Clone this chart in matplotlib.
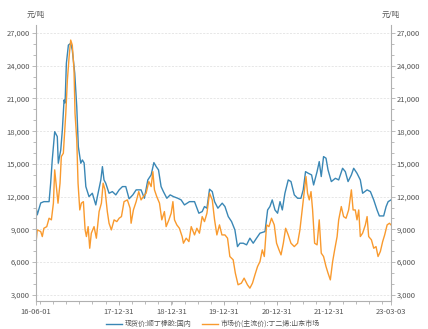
import numpy as np
import pandas as pd
import matplotlib
matplotlib.use("Agg")
from matplotlib import pyplot as plt
from matplotlib import ticker

plt.rcParams["font.family"] = ["Noto Sans CJK SC", "DejaVu Sans"]

# 现货价:顺丁橡胶:国内
br_dates = [
    "2016-06-01", "2016-06-13", "2016-07-07", "2016-07-29", "2016-09-03", "2016-09-14",
    "2016-09-25", "2016-10-12", "2016-10-30", "2016-11-06", "2016-11-23", "2016-12-04",
    "2016-12-16", "2016-12-23", "2017-01-01", "2017-01-15", "2017-01-31", "2017-02-11",
    "2017-02-28", "2017-03-14", "2017-03-25", "2017-04-11", "2017-04-22", "2017-05-04",
    "2017-05-16", "2017-06-07", "2017-06-30", "2017-07-24", "2017-08-04", "2017-08-28",
    "2017-09-08", "2017-09-19", "2017-10-01", "2017-10-24", "2017-11-16", "2017-12-10",
    "2018-01-02", "2018-01-25", "2018-02-17", "2018-03-12", "2018-04-07", "2018-04-30",
    "2018-06-03", "2018-06-26", "2018-07-20", "2018-08-12", "2018-08-31", "2018-09-16",
    "2018-10-02", "2018-10-20", "2018-11-05", "2018-11-29", "2018-12-22", "2019-01-14",
    "2019-02-13", "2019-03-08", "2019-03-31", "2019-05-05", "2019-06-09", "2019-07-09",
    "2019-08-01", "2019-08-17", "2019-09-03", "2019-09-21", "2019-10-10", "2019-10-26",
    "2019-11-18", "2019-12-18", "2020-01-06", "2020-01-29", "2020-02-21", "2020-03-15",
    "2020-04-02", "2020-04-19", "2020-05-12", "2020-06-04", "2020-06-27", "2020-07-20",
    "2020-08-12", "2020-09-05", "2020-10-10", "2020-10-28", "2020-11-13", "2020-11-29",
    "2020-12-18", "2021-01-05", "2021-01-22", "2021-02-07", "2021-02-25", "2021-03-20",
    "2021-04-08", "2021-05-01", "2021-05-24", "2021-06-16", "2021-07-02", "2021-07-18",
    "2021-08-06", "2021-08-29", "2021-09-12", "2021-10-06", "2021-10-21", "2021-11-04",
    "2021-11-20", "2021-12-07", "2021-12-21", "2022-01-13", "2022-02-10", "2022-03-05",
    "2022-04-01", "2022-04-20", "2022-05-09", "2022-06-01", "2022-06-17", "2022-07-10",
    "2022-08-02", "2022-08-18", "2022-09-18", "2022-10-11", "2022-11-03", "2022-11-26",
    "2022-12-12", "2023-01-11", "2023-01-28", "2023-02-11", "2023-03-03",
]
br_values = [
    11400, 10330, 11420, 11540, 11540, 13230,
    15360, 17950, 17500, 15060, 16280, 18100,
    20860, 20580, 24220, 25890, 26050, 25440,
    23310, 20240, 16580, 15060, 15360, 15090,
    12920, 12000, 12310, 11240, 12000, 13530,
    14750, 13530, 13230, 12310, 12460, 12160,
    12620, 12920, 12920, 11800, 12160, 12620,
    12620, 11850, 13530, 13990, 15120, 14750,
    14450, 12920, 12460, 11850, 12160, 12000,
    11850, 11700, 11240, 11540, 11540, 10480,
    10630, 11090, 10940, 12680, 12460, 11540,
    10940, 11400, 11090, 10170, 9710, 8950,
    7420, 7730, 7730, 7580, 8190, 7730,
    8190, 8650, 8800, 10780, 11090, 11700,
    10780, 10480, 11540, 10780, 12310, 13530,
    13380, 12160, 11850, 11850, 12620, 14290,
    14140, 13990, 13070, 14290, 15210, 13840,
    15670, 15520, 14450, 13380, 13680, 13530,
    14600, 14290, 13380, 13990, 14600, 14140,
    13530, 12310, 12620, 12460, 11700, 10780,
    10230, 10230, 11090, 11540, 11700,
]

# 市场价(主流价):丁二烯:山东市场
bd_dates = [
    "2016-06-01", "2016-06-13", "2016-07-07", "2016-07-18", "2016-07-29", "2016-08-18",
    "2016-09-03", "2016-09-19", "2016-10-03", "2016-10-12", "2016-10-26", "2016-11-04",
    "2016-11-18", "2016-11-27", "2016-12-11", "2016-12-28", "2017-01-08", "2017-01-20",
    "2017-01-31", "2017-02-11", "2017-02-23", "2017-03-02", "2017-03-14", "2017-03-23",
    "2017-04-04", "2017-04-15", "2017-04-29", "2017-05-11", "2017-05-20", "2017-06-01",
    "2017-06-12", "2017-06-23", "2017-07-12", "2017-07-28", "2017-08-16", "2017-09-01",
    "2017-09-13", "2017-09-26", "2017-10-12", "2017-10-24", "2017-11-09", "2017-11-28",
    "2017-12-17", "2018-01-02", "2018-01-18", "2018-02-05", "2018-02-28", "2018-03-19",
    "2018-03-26", "2018-04-11", "2018-04-30", "2018-05-18", "2018-06-03", "2018-06-19",
    "2018-07-08", "2018-07-27", "2018-08-12", "2018-08-24", "2018-09-04", "2018-09-20",
    "2018-10-09", "2018-10-25", "2018-11-12", "2018-11-24", "2018-12-13", "2018-12-29",
    "2019-01-10", "2019-01-21", "2019-02-06", "2019-02-24", "2019-03-15", "2019-03-24",
    "2019-04-12", "2019-05-01", "2019-05-17", "2019-06-09", "2019-06-25", "2019-07-13",
    "2019-08-01", "2019-08-17", "2019-09-03", "2019-09-21", "2019-10-10", "2019-10-26",
    "2019-11-11", "2019-11-29", "2019-12-16", "2020-01-06", "2020-01-24", "2020-02-09",
    "2020-03-03", "2020-03-18", "2020-04-06", "2020-04-29", "2020-05-18", "2020-06-10",
    "2020-06-27", "2020-07-15", "2020-08-01", "2020-08-19", "2020-09-05", "2020-09-21",
    "2020-10-05", "2020-10-21", "2020-11-06", "2020-11-24", "2020-12-13", "2020-12-29",
    "2021-01-15", "2021-01-29", "2021-02-14", "2021-03-02", "2021-03-20", "2021-04-08",
    "2021-05-01", "2021-05-24", "2021-06-09", "2021-06-25", "2021-07-09", "2021-07-21",
    "2021-08-01", "2021-08-13", "2021-08-25", "2021-09-05", "2021-09-19", "2021-10-06",
    "2021-10-21", "2021-11-04", "2021-11-20", "2021-12-07", "2021-12-21", "2022-01-06",
    "2022-01-22", "2022-02-05", "2022-02-22", "2022-03-05", "2022-03-23", "2022-04-08",
    "2022-04-25", "2022-05-13", "2022-06-01", "2022-06-13", "2022-06-28", "2022-07-10",
    "2022-07-22", "2022-08-02", "2022-08-18", "2022-09-06", "2022-09-18", "2022-09-29",
    "2022-10-18", "2022-11-03", "2022-11-19", "2022-12-03", "2022-12-19", "2023-01-04",
    "2023-01-18", "2023-02-04", "2023-02-20", "2023-03-03",
]
bd_values = [
    7300, 8950, 8800, 8340, 9100, 9250,
    10020, 9870, 11400, 14450, 12620, 11400,
    13230, 15670, 15980, 19640, 22690, 24820,
    26350, 25890, 23600, 19640, 17200, 13230,
    10780, 11400, 11540, 8950, 8340, 9250,
    7270, 8650, 9250, 8190, 10630, 11400,
    13230, 12620, 10630, 9560, 8950, 9870,
    9710, 10020, 10170, 11540, 11700, 10940,
    9560, 10780, 11540, 12460, 11700, 12000,
    12310, 13380, 12920, 14290, 12620, 12000,
    11400, 9870, 10630, 9250, 9870, 10480,
    11540, 9870, 9410, 9100, 8340, 7730,
    8190, 7880, 9250, 8490, 9100, 8650,
    10170, 9710, 10480, 12310, 11700, 9870,
    8490, 9410, 8490, 8490, 8190, 6510,
    6210, 4990, 3920, 4070, 4530, 3920,
    3610, 4070, 4830, 5590, 6050, 7120,
    6510, 9410, 9250, 10020, 9410, 7730,
    7120, 6660, 7730, 9100, 8490, 7730,
    7420, 7730, 8950, 10780, 12460, 13840,
    12310, 11700, 12460, 10780, 7730, 7580,
    9870, 6820, 6510, 5590, 4990, 4370,
    6050, 7120, 8340, 9870, 11090, 10170,
    10020, 10780, 12620, 10780, 10780, 9870,
    10780, 8340, 8650, 9410, 10170, 8340,
    8040, 7270, 7420, 6510, 6970, 7880,
    8490, 9410, 9560, 9410,
]

x_major = ["2016-06-01", "2017-12-31", "2018-12-31", "2019-12-31",
           "2020-12-31", "2021-12-31", "2023-03-03"]

BLUE = "#3a87b5"
ORANGE = "#f99a2e"
AXIS_GRAY = "#b0b0b0"
TEXT_GRAY = "#555555"

fig = plt.figure(figsize=(4.28, 3.29), dpi=100)
ax = fig.add_axes([0.083, 0.084, 0.8306, 0.839])

ax.plot(pd.to_datetime(br_dates), br_values, color=BLUE, lw=1.0,
        label="现货价:顺丁橡胶:国内")
ax.plot(pd.to_datetime(bd_dates), bd_values, color=ORANGE, lw=1.0,
        label="市场价(主流价):丁二烯:山东市场")

# 坐标轴范围
ax.set_xlim(pd.Timestamp("2016-06-01"), pd.Timestamp("2023-03-03"))
ax.set_ylim(2400, 27700)

# y轴刻度
ax.yaxis.set_major_locator(ticker.MultipleLocator(3000))
ax.yaxis.set_minor_locator(ticker.MultipleLocator(1000))
ax.yaxis.set_major_formatter(ticker.FuncFormatter(lambda v, p: f"{v:,.0f}"))
ax.tick_params(axis="y", which="both", left=True, right=True,
               labelleft=True, labelright=True, direction="out",
               color=AXIS_GRAY, labelcolor=TEXT_GRAY, labelsize=5.5, pad=1)
ax.tick_params(axis="y", which="major", length=3, width=0.6)
ax.tick_params(axis="y", which="minor", length=2, width=0.6)

# x轴刻度
xt = pd.to_datetime(x_major)
ax.set_xticks(xt)
ax.set_xticklabels([d.strftime("%y-%m-%d") for d in xt])
ax.set_xticks(pd.date_range("2016-07-01", "2023-01-01", freq="QS"), minor=True)
ax.tick_params(axis="x", which="both", direction="out", color=AXIS_GRAY,
               labelcolor=TEXT_GRAY, labelsize=5.5, pad=2)
ax.tick_params(axis="x", which="major", length=3, width=0.6)
ax.tick_params(axis="x", which="minor", length=2, width=0.6)

# 网格与边框
ax.grid(axis="y", which="major", color="#dddddd", lw=0.5, ls=(0, (3, 2)))
ax.set_axisbelow(True)
ax.spines["top"].set_visible(False)
for s in ["left", "right", "bottom"]:
    ax.spines[s].set_color(AXIS_GRAY)
    ax.spines[s].set_linewidth(0.8)

# 单位
ax.text(0, 1.025, "元/吨", transform=ax.transAxes, ha="center", va="bottom",
        fontsize=5.5, color=TEXT_GRAY)
ax.text(1, 1.025, "元/吨", transform=ax.transAxes, ha="center", va="bottom",
        fontsize=5.5, color=TEXT_GRAY)

ax.legend(loc="upper center", bbox_to_anchor=(0.5, -0.045), ncol=2,
          frameon=False, fontsize=5, handlelength=2.2, handletextpad=0.5,
          columnspacing=1.5, labelcolor=TEXT_GRAY)

fig.savefig("out.png", dpi=100)
